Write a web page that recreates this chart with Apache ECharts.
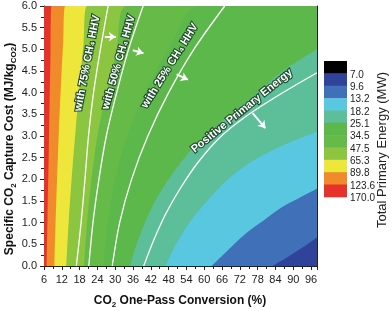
<!DOCTYPE html>
<html><head><meta charset="utf-8">
<script src="https://cdn.jsdelivr.net/npm/echarts@6/dist/echarts.min.js"></script>
<style>html,body{margin:0;padding:0;background:#fff}#c{width:392px;height:311px}</style>
</head><body><div id="c"></div>
<script>
// ---- axis ranges / ticks ----
const XMIN = 6, XMAX = 98, XSTEP = 6;
const YMIN = 0, YMAX = 6, YSTEP = 0.5;

// ---- legend (colour scale) ----
const legendLabels = ['7.0','9.6','13.2','18.2','25.1','34.5','47.5','65.3','89.8','123.6','170.0'];
const legendColors = ['#000000','#30439a','#4071b8','#58c7df','#5cbf9a','#5cb84b','#66ba47','#8cc540','#eee63a','#f18a2a','#e5332b'];

// ---- contour boundaries [conversion %, capture cost] ----
const c123_6 = [[6.9,0],[7.2,1.2],[7.6,2.6],[7.9,3.8],[8.2,4.9],[8.5,6]];
const c89_8  = [[9.5,0],[9.9,1],[10.4,2],[11.0,3.1],[11.8,4.3],[12.5,5.2],[13.2,6]];
const c65_3  = [[13.5,0],[14.3,1],[15.3,2],[16.6,3.1],[18.0,4.2],[19.3,5.1],[20.6,6]];
const c47_5  = [[19.5,0],[20.5,1],[22.0,2],[24.0,3],[27.0,4],[30.5,5],[34.0,6]];
const c34_5  = [[26.0,0],[27.5,1],[30.0,2],[34.0,3],[40.0,4],[48.0,5],[58.0,6]];
const c25_1  = [[35,0],[37.2,0.5],[40,1.0],[43.5,1.5],[48,2.0],[54,2.55],[61,3.05],[69,3.5],[77,3.95],[86.5,4.5],[98,5.0]];
const c18_2  = [[47,0],[50.5,0.5],[55,1.0],[61,1.5],[68,2.0],[77,2.45],[87,2.8],[98,3.1]];
const c13_2  = [[62.5,0],[67,0.3],[74,0.75],[80,1.05],[86,1.35],[92,1.57],[98,1.78]];
const c9_6   = [[83,0],[88,0.2],[93,0.42],[98,0.66]];

// ---- white reference lines ----
const ch4_75 = [[16.9,0],[18.5,1],[19.8,2],[21.0,3],[22.7,4],[25.0,5],[27.6,6]];
const ch4_50 = [[21.1,0],[22.5,1],[24.5,2],[27.0,3],[30.5,4],[34.5,5],[39.4,6]];
const ch4_25 = [[29.0,0],[31.5,1],[35.5,2],[41.0,3],[48.0,4],[56.5,5],[66.9,6]];
const positivePE = [[39.6,0],[43,0.6],[47,1.2],[52,1.8],[58,2.4],[65,2.95],[74,3.45],[86,3.98],[98,4.46]];

// ---- annotation anchors (data coords) ----
const labelTexts = ['with 75% CH₄ HHV','with 50% CH₄ HHV','with 25% CH₄ HHV','Positive Primary Energy'];
const labelAnchors = [[20.6,4.68],[31.2,4.70],[48.4,4.62],[72.7,3.58]];
const labelAngles = [79,74,58,39];
const arrows = [
  [[26.5,5.29],[30.2,5.29]],
  [[35.9,4.98],[39.5,4.91]],
  [[50.7,4.42],[54.5,4.30]],
  [[76.3,3.53],[80.6,3.18]]
];

const FONT = 'Liberation Sans, Arial, sans-serif';
const chart = echarts.init(document.getElementById('c'), null, {renderer:'canvas'});

function closeTop(pts){
  const p = pts.slice();
  const last = p[p.length-1];
  if (last[1] >= YMAX && last[0] < XMAX) p.push([XMAX, YMAX]);
  return p;
}
function band(pts, color){
  return {type:'line', data: closeTop(pts), showSymbol:false, symbol:'none',
    smooth:0.3, lineStyle:{width:0, color:color},
    areaStyle:{color:color, opacity:1}, silent:true, animation:false, z:1};
}
function wline(pts, arrow){
  const s = {type:'line', data: pts, showSymbol:false, symbol:'none', smooth:0.3,
    lineStyle:{width:1.3, color:'#ffffff'}, silent:true, animation:false, z:3};
  if (arrow) s.markLine = {silent:true, animation:false, symbol:['none','arrow'], symbolSize:7,
    label:{show:false}, lineStyle:{color:'#fff', width:2, type:'solid'},
    data:[[{coord:arrow[0]},{coord:arrow[1]}]]};
  return s;
}

const series = [
  band([[XMIN,YMAX],[XMAX,YMAX]], legendColors[10]),
  band(c123_6, legendColors[9]),
  band(c89_8,  legendColors[8]),
  band(c65_3,  legendColors[7]),
  band(c47_5,  legendColors[6]),
  band(c34_5,  legendColors[5]),
  band(c25_1,  legendColors[4]),
  band(c18_2,  legendColors[3]),
  band(c13_2,  legendColors[2]),
  band(c9_6,   legendColors[1]),
  wline(ch4_75, arrows[0]),
  wline(ch4_50, arrows[1]),
  wline(ch4_25, arrows[2]),
  wline(positivePE, arrows[3])
];

const axisText = {color:'#222', fontSize:11, fontFamily:FONT};
chart.setOption({
  animation:false,
  grid:{left:44, top:6, right:75, bottom:45},
  xAxis:[
    {type:'value', min:XMIN, max:XMAX, interval:XSTEP, position:'bottom',
     axisLine:{show:true, lineStyle:{color:'#222', width:1}},
     axisTick:{show:true, inside:false, length:4, lineStyle:{color:'#222'}},
     minorTick:{show:true, splitNumber:2, length:3, lineStyle:{color:'#222'}},
     axisLabel:Object.assign({margin:8, showMaxLabel:false}, axisText),
     splitLine:{show:false}},
    {type:'value', min:XMIN, max:XMAX, position:'top', axisLine:{show:true, onZero:false, lineStyle:{color:'#222'}},
     axisTick:{show:false}, axisLabel:{show:false}, splitLine:{show:false}}
  ],
  yAxis:[
    {type:'value', min:YMIN, max:YMAX, interval:YSTEP, position:'left',
     axisLine:{show:true, lineStyle:{color:'#222', width:1}},
     axisTick:{show:true, inside:false, length:4, lineStyle:{color:'#222'}},
     minorTick:{show:true, splitNumber:2, length:3, lineStyle:{color:'#222'}},
     axisLabel:Object.assign({margin:7, formatter:v=>v.toFixed(1)}, axisText),
     splitLine:{show:false}},
    {type:'value', min:YMIN, max:YMAX, position:'right', axisLine:{show:true, onZero:false, lineStyle:{color:'#222'}},
     axisTick:{show:false}, axisLabel:{show:false}, splitLine:{show:false}}
  ],
  series: series
});

// ---- graphics: titles, legend, annotations ----
const g = [];
const subRich = {
  n:{fontSize:12, fontWeight:'bold', fontFamily:FONT, fill:'#111'},
  s:{fontSize:8, fontWeight:'bold', fontFamily:FONT, fill:'#111', padding:[7,0,0,0]}
};
g.push({type:'text', x:10, y:149, rotation:Math.PI/2,
  style:{text:'{n|Specific CO}{s|2}{n| Capture Cost (MJ/kg}{s|CO2}{n|)}', rich:subRich,
    align:'center', verticalAlign:'middle', fill:'#111'}});
g.push({type:'text', x:180, y:301,
  style:{text:'{n|CO}{s|2}{n| One-Pass Conversion (%)}', rich:subRich,
    align:'center', verticalAlign:'middle', fill:'#111'}});
g.push({type:'text', x:382, y:150, rotation:Math.PI/2,
  style:{text:'Total Primary Energy (MW)', font:'13px '+FONT, fill:'#222',
    align:'center', verticalAlign:'middle'}});
const LX = 324, LY = 61, LH = 12.35, LW = 23;
legendColors.forEach((c,i)=>{
  g.push({type:'rect', shape:{x:LX, y:LY+i*LH, width:LW, height:LH+0.5}, style:{fill:c}});
  g.push({type:'text', x:LX+26, y:LY+(i+1)*LH+1.5,
    style:{text:legendLabels[i], font:'10px '+FONT, fill:'#222', align:'left', verticalAlign:'middle'}});
});
labelTexts.forEach((t,i)=>{
  const p = chart.convertToPixel({xAxisIndex:0, yAxisIndex:0}, labelAnchors[i]);
  g.push({type:'text', x:p[0], y:p[1], rotation:labelAngles[i]*Math.PI/180, z:10,
    style:{text:t, font:'bold 11px '+FONT, fill:'#ffffff', stroke:'#1d4a2a', lineWidth:2.2,
      align:'center', verticalAlign:'middle'}});
});
chart.setOption({graphic:g});
</script></body></html>
